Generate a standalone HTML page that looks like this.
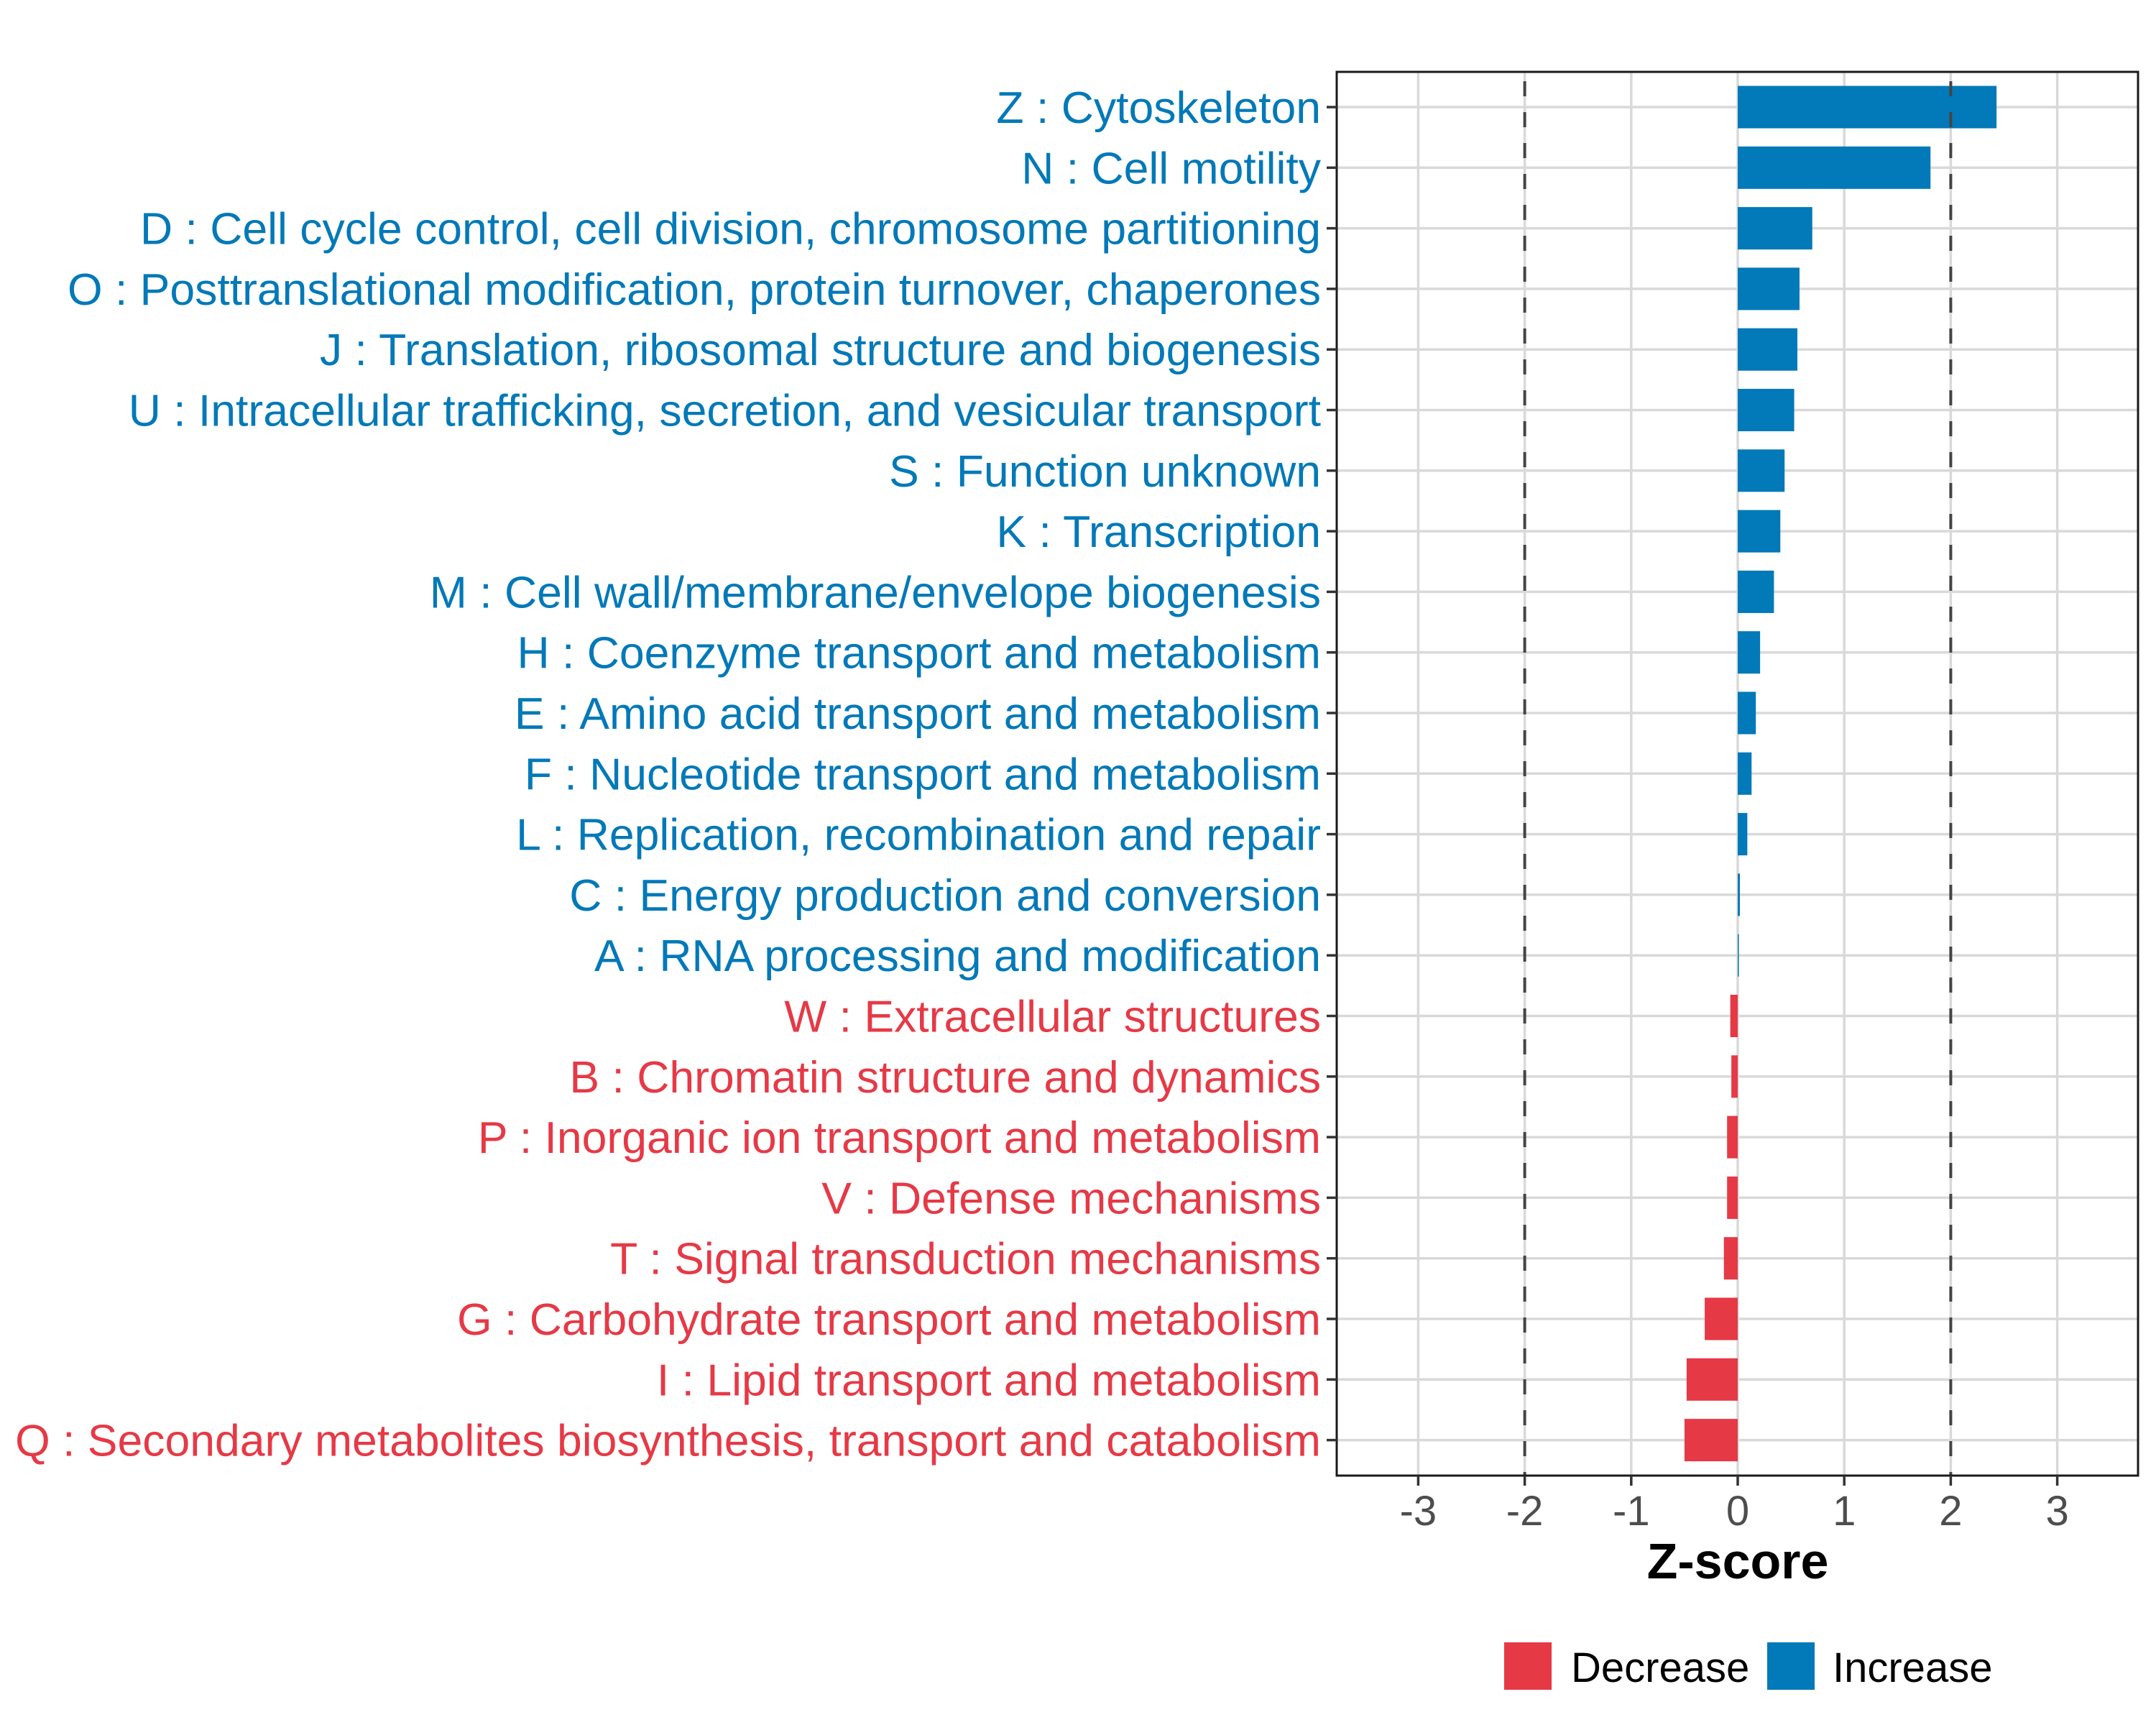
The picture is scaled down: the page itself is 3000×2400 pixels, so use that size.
<!DOCTYPE html>
<html><head><meta charset="utf-8"><style>
html,body{margin:0;padding:0;background:#fff;}
svg{display:block;font-family:"Liberation Sans",Arial,sans-serif;}
</style></head><body>
<svg id="chart" width="3000" height="2400" viewBox="0 0 3000 2400" xmlns="http://www.w3.org/2000/svg">
<rect x="0" y="0" width="3000" height="2400" fill="#fff"/>
<g id="grid"></g>
<g id="bars"></g>
<g id="refs"></g>
<rect x="1860" y="100" width="1115" height="1953" fill="none" stroke="#1a1a1a" stroke-width="3"/>
<g id="yaxis"></g>
<g id="xaxis"></g>
<text x="2418" y="2196" text-anchor="middle" font-size="70" font-weight="bold" fill="#000">Z-score</text>
<g>
  <rect x="2093" y="2285" width="66" height="66" fill="#e63946"/>
  <text x="2186" y="2340" font-size="58" fill="#000">Decrease</text>
  <rect x="2459" y="2285" width="66" height="66" fill="#0279b8"/>
  <text x="2550" y="2340" font-size="58" fill="#000">Increase</text>
</g>
</svg>
<script>
const categories = ["Z : Cytoskeleton","N : Cell motility","D : Cell cycle control, cell division, chromosome partitioning","O : Posttranslational modification, protein turnover, chaperones","J : Translation, ribosomal structure and biogenesis","U : Intracellular trafficking, secretion, and vesicular transport","S : Function unknown","K : Transcription","M : Cell wall/membrane/envelope biogenesis","H : Coenzyme transport and metabolism","E : Amino acid transport and metabolism","F : Nucleotide transport and metabolism","L : Replication, recombination and repair","C : Energy production and conversion","A : RNA processing and modification","W : Extracellular structures","B : Chromatin structure and dynamics","P : Inorganic ion transport and metabolism","V : Defense mechanisms","T : Signal transduction mechanisms","G : Carbohydrate transport and metabolism","I : Lipid transport and metabolism","Q : Secondary metabolites biosynthesis, transport and catabolism"];
const zscores = [2.43,1.81,0.70,0.58,0.56,0.53,0.44,0.40,0.34,0.21,0.17,0.13,0.09,0.02,0.005,-0.07,-0.06,-0.10,-0.10,-0.13,-0.31,-0.48,-0.50];
const xTicks = [-3,-2,-1,0,1,2,3];
const xTickLabels = ["-3","-2","-1","0","1","2","3"];
const refLines = [-2,2];

const NS="http://www.w3.org/2000/svg";
const x0=2418, unit=148.2, yTop=149, yStep=84.3, barH=59;
const xs=v=>x0+v*unit;
const ys=i=>yTop+i*yStep;
const BLUE="#0279b8", RED="#e63946";
function mk(tag,attrs,parent){const e=document.createElementNS(NS,tag);for(const k in attrs)e.setAttribute(k,attrs[k]);parent.appendChild(e);return e;}
const grid=document.getElementById('grid'),bars=document.getElementById('bars'),refs=document.getElementById('refs'),yax=document.getElementById('yaxis'),xax=document.getElementById('xaxis');
xTicks.forEach((t,i)=>{
  const g=mk('line',{x1:xs(t),x2:xs(t),y1:100,y2:2053,stroke:'#d9d9d9','stroke-width':3.5},grid);
  
  
  const tk=mk('line',{x1:xs(t),x2:xs(t),y1:2053,y2:2067,stroke:'#333','stroke-width':3.5},xax);
  
  
  const tl=mk('text',{x:xs(t),y:2122,'text-anchor':'middle','font-size':58,fill:'#4d4d4d'},xax);
  tl.textContent=xTickLabels[i];
  
  
});
categories.forEach((c,i)=>{
  const y=ys(i), v=zscores[i], col=v>=0?BLUE:RED;
  const g=mk('line',{x1:1860,x2:2975,y1:y,y2:y,stroke:'#d9d9d9','stroke-width':3.5},grid);
  
  
  const b=mk('rect',{x:Math.min(xs(0),xs(v)),y:y-barH/2,width:Math.max(Math.abs(xs(v)-xs(0)),1.5),height:barH,fill:col},bars);
  
  
  const tk=mk('line',{x1:1846,x2:1860,y1:y,y2:y,stroke:'#333','stroke-width':3.5},yax);
  
  
  const tl=mk('text',{x:1838,y:y+22,'text-anchor':'end','font-size':62.5,fill:col},yax);
  tl.textContent=c;
  
  
});
refLines.forEach(r=>{
  const l=mk('line',{x1:xs(r),x2:xs(r),y1:100,y2:2053,stroke:'#444','stroke-width':4,'stroke-dasharray':'21 22','stroke-dashoffset':'-13'},refs);
  
  
});
</script>
</body></html>
